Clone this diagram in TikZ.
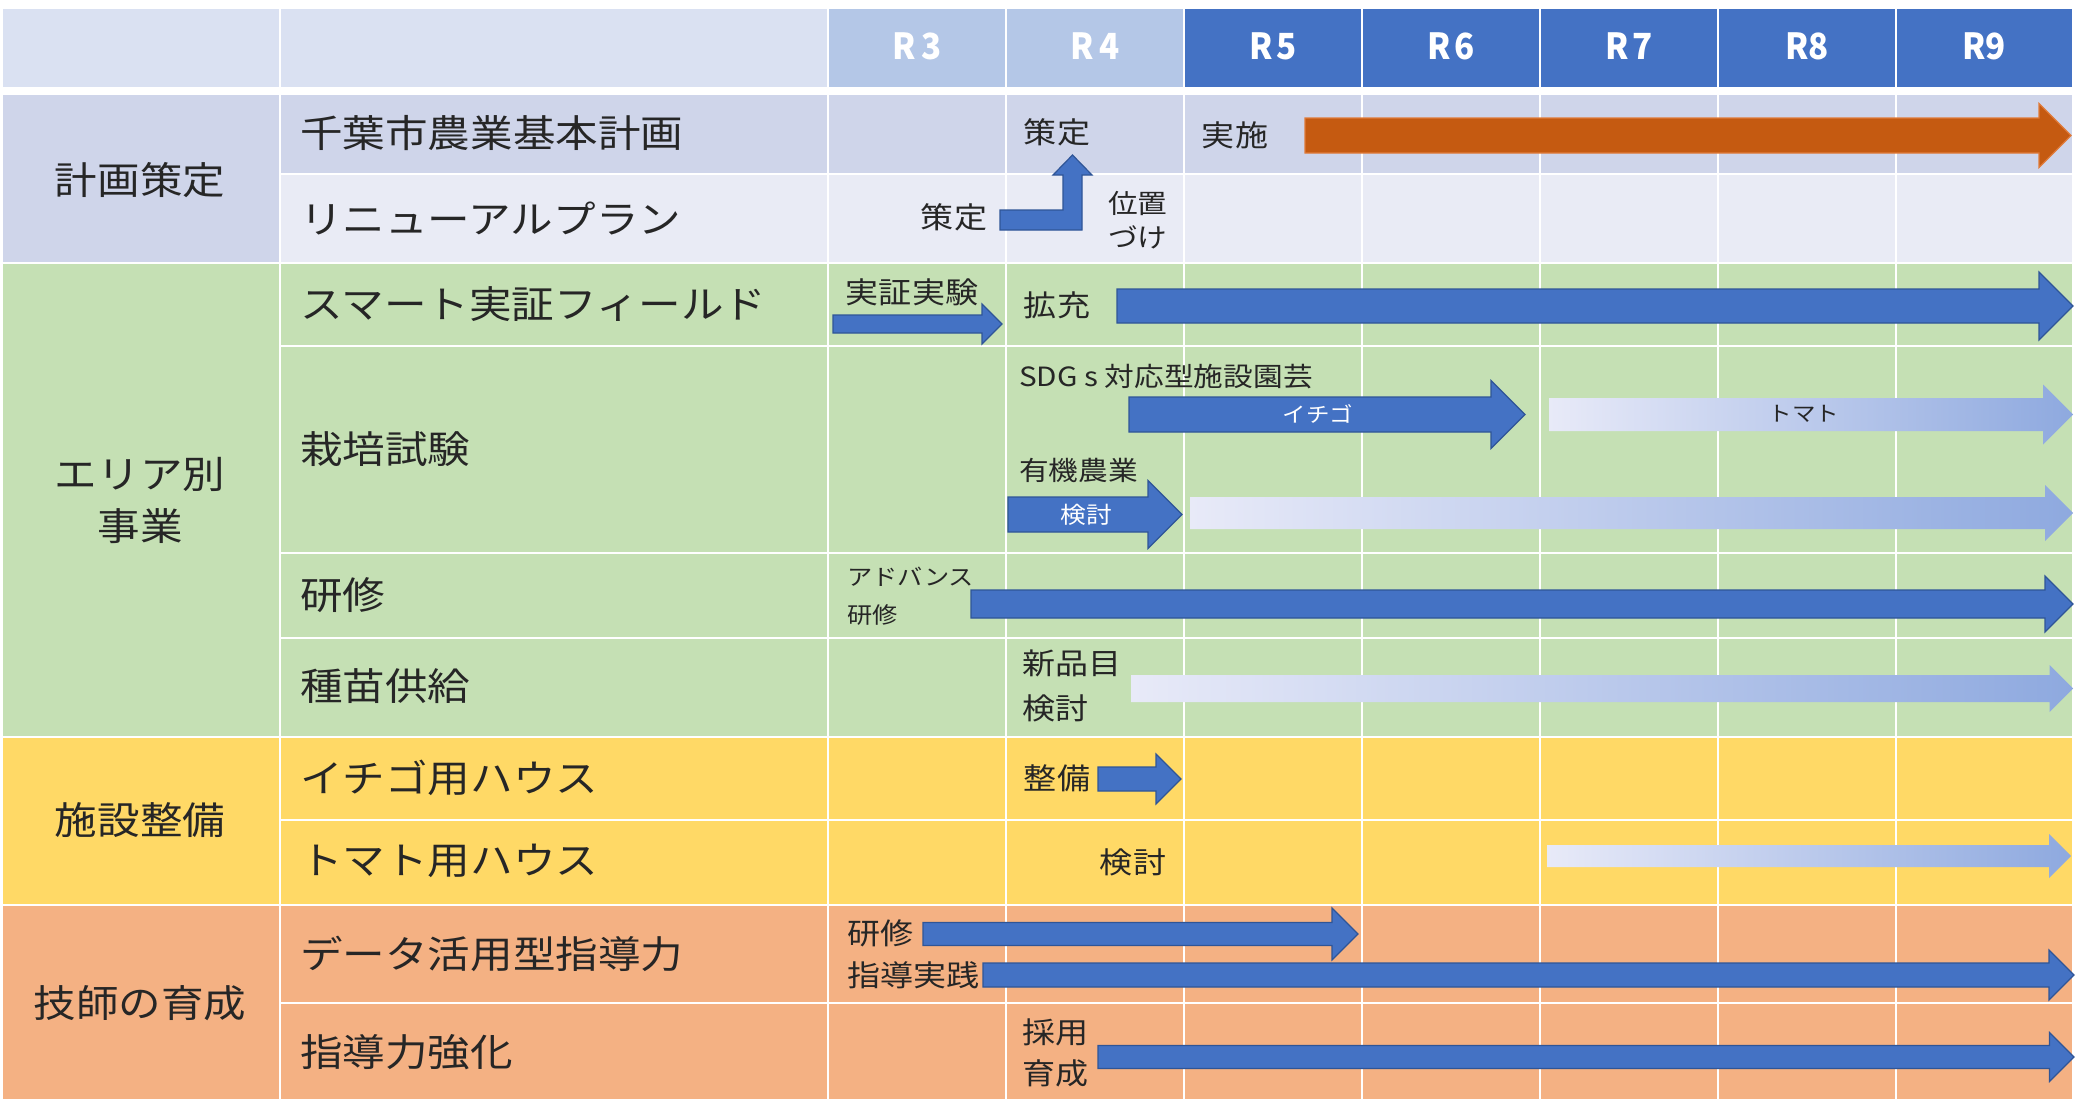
\documentclass[tikz,border=0pt]{standalone}
\usepackage{fontspec}
\newfontfamily\jp{Noto Sans CJK JP}[FakeStretch=1.12]
\newfontfamily\jphdr{Noto Sans CJK JP}[FakeStretch=0.92]
\definecolor{hdl}{HTML}{DAE1F2}
\definecolor{hdm}{HTML}{B4C7E7}
\definecolor{hdd}{HTML}{4472C4}
\definecolor{plA}{HTML}{CFD5EA}
\definecolor{plB}{HTML}{E9EBF5}
\definecolor{grn}{HTML}{C5E0B4}
\definecolor{yel}{HTML}{FFD966}
\definecolor{org}{HTML}{F4B183}
\definecolor{arrB}{HTML}{4472C4}
\definecolor{arrBd}{HTML}{2F5597}
\definecolor{arrO}{HTML}{C55A11}
\definecolor{arrOd}{HTML}{E07B39}
\definecolor{gA}{HTML}{E8EAF8}
\definecolor{gM}{HTML}{B4C2F0}
\definecolor{gB}{HTML}{8EA9DF}
\definecolor{txt}{HTML}{262626}
\newcommand\blockarr[6]{%
  \path[#6] (#1,#3-#4) -- (#2-#5,#3-#4) -- (#2-#5,#3-#5) -- (#2,#3)
    -- (#2-#5,#3+#5) -- (#2-#5,#3+#4) -- (#1,#3+#4) -- cycle;}
\tikzset{
  cellst/.style={draw=white, line width=2.6},
  bluearr/.style={fill=arrB, draw=arrBd, line width=1.2},
  orarr/.style={fill=arrO, draw=arrOd, line width=1.2},
  gradarr/.style={left color=gA, middle color=gM, right color=gB, draw=none},
  lbl/.style={inner sep=0pt, text=txt, font=\jp\fontsize{38}{46}\selectfont},
  ann/.style={inner sep=0pt, text=txt, font=\jp\fontsize{29.5}{42}\selectfont, align=left},
  anns/.style={inner sep=0pt, text=txt, font=\jp\fontsize{26.5}{36}\selectfont, align=left},
  annxs/.style={inner sep=0pt, text=txt, font=\jp\fontsize{22.5}{38}\selectfont, align=left},
  inarr/.style={inner sep=0pt, font=\jp\fontsize{21}{26}\selectfont},
  hdrtxt/.style={inner sep=0pt, text=white, font=\jphdr\bfseries\fontsize{36}{40}\selectfont}
}
\begin{document}
\begin{tikzpicture}[x=1pt,y=-1pt]
\useasboundingbox (0,0) rectangle (2080,1100);
\fill[white] (0,0) rectangle (2080,1100);

% header
\path[cellst, fill=hdl] (2,8) rectangle (280,88);
\path[cellst, fill=hdl] (280,8) rectangle (828,88);
\path[cellst, fill=hdm] (828,8) rectangle (1006,88);
\path[cellst, fill=hdm] (1006,8) rectangle (1184,88);
\foreach \xa/\xb in {1184/1362,1362/1540,1540/1718,1718/1896,1896/2073}
  \path[cellst, fill=hdd] (\xa,8) rectangle (\xb,88);

% body cells
\foreach \ya/\yb/\c in {94/174/plA,174/263/plB,263/346/grn,346/553/grn,553/638/grn,638/737/grn,737/820/yel,820/905/yel,905/1003/org,1003/1100/org}{
  \foreach \xa/\xb in {280/828,828/1006,1006/1184,1184/1362,1362/1540,1540/1718,1718/1896,1896/2073}
    \path[cellst, fill=\c] (\xa,\ya) rectangle (\xb,\yb);
}
% category cells
\path[cellst, fill=plA] (2,94) rectangle (280,263);
\path[cellst, fill=grn] (2,263) rectangle (280,737);
\path[cellst, fill=yel] (2,737) rectangle (280,905);
\path[cellst, fill=org] (2,905) rectangle (280,1100);

% header labels
\node[hdrtxt] (h3) at (917,46) {R\kern5pt 3};
\node[hdrtxt] (h4) at (1095,46) {R\kern5pt 4};
\node[hdrtxt] (h5) at (1273,46) {R\kern3pt 5};
\node[hdrtxt] (h6) at (1451,46) {R\kern3pt 6};
\node[hdrtxt] (h7) at (1629,46) {R\kern3pt 7};
\node[hdrtxt] (h8) at (1807,46) {R8};
\node[hdrtxt] (h9) at (1984,46) {R9};

% category labels
\node[lbl] (c1) at (140,180) {計画策定};
\node[lbl, align=center, font=\jp\fontsize{38}{52}\selectfont] (c2) at (140,500) {エリア別\\事業};
\node[lbl] (c3) at (140,820) {施設整備};
\node[lbl] (c4) at (140,1003) {技師の育成};

% row labels
\node[lbl, anchor=west] (r1) at (300,133) {千葉市農業基本計画};
\node[lbl, anchor=west] (r2) at (300,218) {リニューアルプラン};
\node[lbl, anchor=west] (r3) at (300,304) {スマート実証フィールド};
\node[lbl, anchor=west] (r4) at (300,449) {栽培試験};
\node[lbl, anchor=west] (r5) at (300,595) {研修};
\node[lbl, anchor=west] (r6) at (300,686) {種苗供給};
\node[lbl, anchor=west] (r7) at (300,778) {イチゴ用ハウス};
\node[lbl, anchor=west] (r8) at (300,861) {トマト用ハウス};
\node[lbl, anchor=west] (r9) at (300,954) {データ活用型指導力};
\node[lbl, anchor=west] (r10) at (300,1052) {指導力強化};

% arrows
\blockarr{1305}{2071}{135.5}{17.5}{32}{orarr}
\path[bluearr] (1000,210) -- (1063,210) -- (1063,175) -- (1053,175) -- (1072.5,155)
  -- (1092,175) -- (1082,175) -- (1082,230) -- (1000,230) -- cycle;
\blockarr{833}{1002}{324}{9}{20}{bluearr}
\blockarr{1117}{2073}{306}{17}{34}{bluearr}
\blockarr{1129}{1525}{414.5}{17.5}{34}{bluearr}
\blockarr{1549}{2073}{414.5}{16.5}{30}{gradarr}
\blockarr{1008}{1182}{514.5}{17.5}{34}{bluearr}
\blockarr{1190}{2073}{513}{16}{28}{gradarr}
\blockarr{971}{2073}{604}{14}{28}{bluearr}
\blockarr{1131}{2073}{688.5}{13.5}{23.5}{gradarr}
\blockarr{1098}{1181}{779}{12}{25}{bluearr}
\blockarr{1547}{2071}{856}{11}{22}{gradarr}
\blockarr{923}{1358}{934}{11.5}{26}{bluearr}
\blockarr{983}{2074}{975}{12}{25}{bluearr}
\blockarr{1098}{2074}{1057}{11.5}{24.5}{bluearr}

% annotations
\node[ann] (a1) at (1057,132) {策定};
\node[ann] (a2) at (954,217) {策定};
\node[anns, font=\jp\fontsize{26.5}{34}\selectfont, anchor=west] (a3) at (1108,220) {位置\\づけ};
\node[ann] (a4) at (1235,135) {実施};
\node[ann] (a5) at (912,292) {実証実験};
\node[ann] (a6) at (1057,305) {拡充};
\node[anns, anchor=west] (a7) at (1019,377) {SDG s 対応型施設園芸};
\node[inarr, text=white] (a8) at (1318,414) {イチゴ};
\node[inarr, text=txt] (a9) at (1804,414) {トマト};
\node[anns, anchor=west] (a10) at (1019,470) {有機農業};
\node[inarr, text=white, font=\jp\fontsize{23}{26}\selectfont] (a11) at (1086,515) {検討};
\node[annxs, anchor=west] (a12) at (847,596) {アドバンス\\研修};
\node[ann, font=\jp\fontsize{29.5}{45}\selectfont, anchor=west] (a13) at (1022,686) {新品目\\検討};
\node[ann] (a14) at (1057,778) {整備};
\node[ann] (a15) at (1133,862) {検討};
\node[ann, anchor=west] (a16) at (847,933) {研修};
\node[ann, anchor=west] (a17) at (847,975) {指導実践};
\node[ann, font=\jp\fontsize{29.5}{41}\selectfont, anchor=west] (a18) at (1022,1053) {採用\\育成};
\end{tikzpicture}
\end{document}
